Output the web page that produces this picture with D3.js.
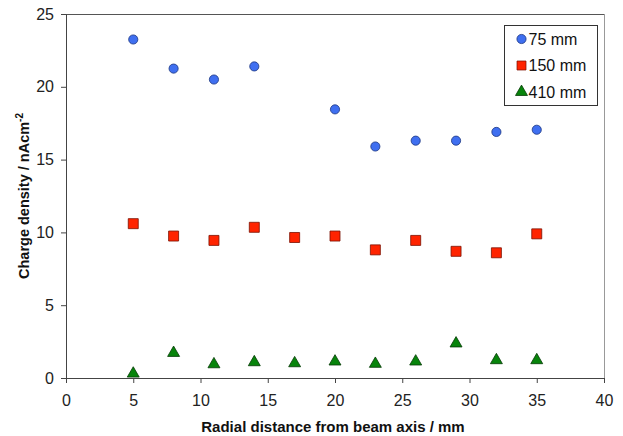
<!DOCTYPE html>
<html>
<head>
<meta charset="utf-8">
<script src="https://cdn.jsdelivr.net/npm/d3@7"></script>
<style>
  body { margin: 0; background: #fff; }
  text { font-family: "Liberation Sans", Arial, sans-serif; }
</style>
</head>
<body>
<div id="chart"></div>
<script>
// radial distances (mm)
const distances = [5, 8, 11, 14, 17, 20, 23, 26, 29, 32, 35];
// charge density per series, null where no point was plotted
const series75 = [23.25, 21.25, 20.5, 21.4, null, 18.45, 15.9, 16.3, 16.3, 16.9, 17.05];
const series150 = [10.6, 9.75, 9.45, 10.35, 9.65, 9.75, 8.8, 9.45, 8.7, 8.6, 9.9];
const series410 = [0.3, 1.72, 0.94, 1.08, 1.01, 1.13, 0.97, 1.13, 2.37, 1.22, 1.22];
const seriesNames = ["75 mm", "150 mm", "410 mm"];
const xTicks = [0, 5, 10, 15, 20, 25, 30, 35, 40];
const yTicks = [0, 5, 10, 15, 20, 25];

const svgWidth = 623, svgHeight = 436;
const margin = {top: 14, right: 19, bottom: 58, left: 66};
const width = svgWidth - margin.left - margin.right,
      height = svgHeight - margin.top - margin.bottom;

let x = d3.scaleLinear().domain([0, 40]).range([0, width]);
let y = d3.scaleLinear().domain([0, 25]).range([height, 0]);

let svg = d3.select("#chart").append("svg")
    .attr("width", svgWidth)
    .attr("height", svgHeight);

let g = svg.append("g")
    .attr("transform", "translate(" + margin.left + "," + margin.top + ")");

// plot frame top + right
g.append("line").attr("x1", 0).attr("x2", width).attr("y1", 0.5).attr("y2", 0.5)
    .attr("stroke", "#555").attr("stroke-width", 1);
g.append("line").attr("x1", width + 0.5).attr("x2", width + 0.5).attr("y1", 0).attr("y2", height)
    .attr("stroke", "#999").attr("stroke-width", 1);

// axes
let xAxis = g.append("g")
    .attr("transform", "translate(0," + height + ")")
    .call(d3.axisBottom(x).tickValues(xTicks).tickSize(5).tickPadding(12));
let yAxis = g.append("g")
    .call(d3.axisLeft(y).tickValues(yTicks).tickSize(5).tickPadding(7));

[xAxis, yAxis].forEach(a => {
    a.select(".domain").attr("stroke", "#444");
    a.selectAll(".tick line").attr("stroke", "#444");
    a.selectAll(".tick text").attr("font-size", "16px").attr("fill", "#222")
        .style("font-family", "'Liberation Sans', Arial, sans-serif");
});

// axis titles
svg.append("text")
    .attr("x", 333)
    .attr("y", 432)
    .attr("text-anchor", "middle")
    .attr("font-size", "15px")
    .attr("font-weight", "bold")
    .attr("fill", "#111")
    .text("Radial distance from beam axis / mm");

let yTitle = svg.append("text")
    .attr("transform", "translate(29," + (margin.top + height / 2) + ") rotate(-90)")
    .attr("text-anchor", "middle")
    .attr("font-size", "14.5px")
    .attr("font-weight", "bold")
    .attr("fill", "#111");
yTitle.append("tspan").text("Charge density / nAcm");
yTitle.append("tspan").attr("dy", -6).attr("font-size", "10px").text("-2");

// markers
const circleSym = d3.symbol().type(d3.symbolCircle).size(66);
const squareSym = d3.symbol().type(d3.symbolSquare).size(100);
const triSym = d3.symbol().type(d3.symbolTriangle).size(62);

const styles = [
    {data: series75, sym: circleSym, fill: "#3f6ff0", stroke: "#1a3580"},
    {data: series150, sym: squareSym, fill: "#ff2400", stroke: "#7a1000"},
    {data: series410, sym: triSym, fill: "#07840b", stroke: "#053a05"}
];

styles.forEach(s => {
    g.selectAll(null)
        .data(distances.map((d, i) => [d, s.data[i]]).filter(p => p[1] != null))
        .enter()
        .append("path")
        .attr("d", s.sym)
        .attr("transform", d => "translate(" + x(d[0]) + "," + y(d[1]) + ")")
        .attr("fill", s.fill)
        .attr("stroke", s.stroke)
        .attr("stroke-width", 0.8);
});

// legend
let legend = svg.append("g").attr("transform", "translate(504,25)");
legend.append("rect")
    .attr("x", 0.5).attr("y", 0.5)
    .attr("width", 93).attr("height", 80)
    .attr("fill", "#fff").attr("stroke", "#333").attr("stroke-width", 1);

seriesNames.forEach((name, i) => {
    let row = legend.append("g").attr("transform", "translate(17.5," + (14 + i * 26.5) + ")");
    row.append("path")
        .attr("d", styles[i].sym)
        .attr("fill", styles[i].fill)
        .attr("stroke", styles[i].stroke)
        .attr("stroke-width", 0.8)
        .attr("transform", i === 1 ? "scale(0.9)" : null);
    row.append("text")
        .attr("x", 7)
        .attr("y", 5.5)
        .attr("font-size", "16px")
        .attr("fill", "#111")
        .text(name);
});
</script>
</body>
</html>
